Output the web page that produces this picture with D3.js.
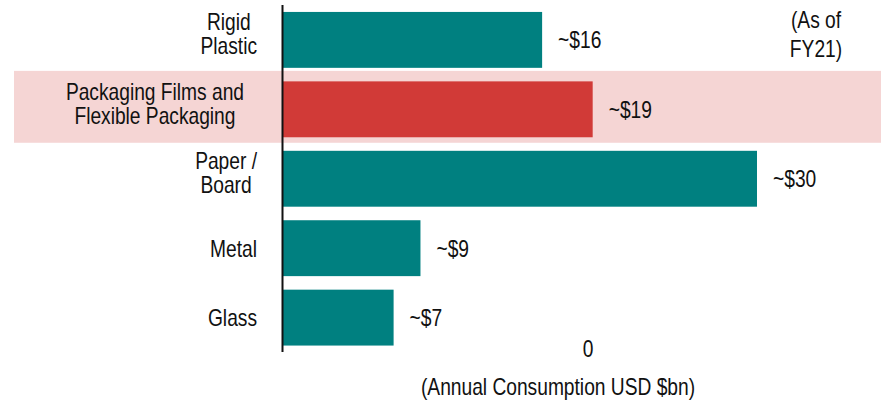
<!DOCTYPE html>
<html>
<head>
<meta charset="utf-8">
<script src="https://cdn.jsdelivr.net/npm/d3@7"></script>
<style>
  body { margin: 0; background: #fff; }
  text { font-family: "Liberation Sans", Arial, sans-serif; font-size: 24px; fill: #111; }
</style>
</head>
<body>
<div id="chart"></div>
<script>
// Data
var categories = ["Rigid Plastic", "Packaging Films and Flexible Packaging", "Paper / Board", "Metal", "Glass"];
var labelLines = [["Rigid", "Plastic"], ["Packaging Films and", "Flexible Packaging"], ["Paper /", "Board"], ["Metal"], ["Glass"]];
var values = [16.4, 19.6, 30, 8.7, 7.0];
var valueLabels = ["~$16", "~$19", "~$30", "~$9", "~$7"];
var highlighted = "Packaging Films and Flexible Packaging";
var xTicks = [0];

var width = 881, height = 400;
var narrow = 0.8; // the original uses a narrow face, squeeze the text horizontally

var svg = d3.select("#chart")
  .append("svg")
  .attr("width", width)
  .attr("height", height);

var x = d3.scaleLinear()
  .domain([0, 30])
  .range([283, 757]);

var y = d3.scaleBand()
  .domain(categories)
  .range([5, 352.5])
  .paddingInner(0.195)
  .paddingOuter(0.1);

var rows = categories.map(function(c, i) {
  return {cat: c, lines: labelLines[i], value: values[i], label: valueLabels[i]};
});

// put a (multi line) squeezed text at px,py; returns the text node
function narrowText(parent, px, py, lines, anchor, lineH) {
  var g = parent.append("g")
    .attr("transform", "translate(" + px + "," + py + ") scale(" + narrow + ",1)");
  var t = g.append("text").attr("text-anchor", anchor || "start");
  lines.forEach(function(line, i) {
    t.append("tspan").attr("x", 0).attr("y", i * (lineH || 24)).text(line);
  });
  return t;
}

// highlight band behind the packaging row
svg.append("rect")
  .attr("x", 14)
  .attr("y", y(highlighted) - 10.5)
  .attr("width", width - 14)
  .attr("height", y.bandwidth() + 16)
  .attr("fill", "#f5d5d4");

// bars
svg.append("g")
  .selectAll("rect")
  .data(rows)
  .enter()
  .append("rect")
  .attr("x", x(0))
  .attr("y", function(d) { return y(d.cat); })
  .attr("width", function(d) { return x(d.value) - x(0); })
  .attr("height", y.bandwidth())
  .attr("fill", function(d) { return d.cat == highlighted ? "#d13a37" : "#008080"; });

// value labels
var valG = svg.append("g");
rows.forEach(function(d) {
  narrowText(valG, x(d.value) + 16, y(d.cat) + y.bandwidth() / 2 + 8.6, [d.label]);
});

// category labels, centred in a block that ends near the axis
var catG = svg.append("g");
rows.forEach(function(d) {
  var n = d.lines.length;
  var cy = y(d.cat) + y.bandwidth() / 2;
  var top = cy + 8.6 - (n - 1) / 2 * 24 - (n > 1 ? 6 : 0);
  var right = d.cat == highlighted ? 244 : 257;
  var t = narrowText(catG, 0, top, d.lines, "middle");
  var w = 0;
  t.selectAll("tspan").each(function() { w = Math.max(w, this.getComputedTextLength()); });
  d3.select(t.node().parentNode)
    .attr("transform", "translate(" + (right - w * narrow / 2) + "," + top + ") scale(" + narrow + ",1)");
});

// y axis line
svg.append("line")
  .attr("x1", x(0) - 0.5)
  .attr("x2", x(0) - 0.5)
  .attr("y1", 5)
  .attr("y2", 352)
  .attr("stroke", "#111")
  .attr("stroke-width", 2);

// stray tick label from the original
xTicks.forEach(function(v) {
  narrowText(svg, 588, 357, [String(v)], "middle");
});

// axis title
narrowText(svg, 558, 395, ["(Annual Consumption USD $bn)"], "middle");

// note
narrowText(svg, 816, 28, ["(As of", "FY21)"], "middle", 29);
</script>
</body>
</html>
